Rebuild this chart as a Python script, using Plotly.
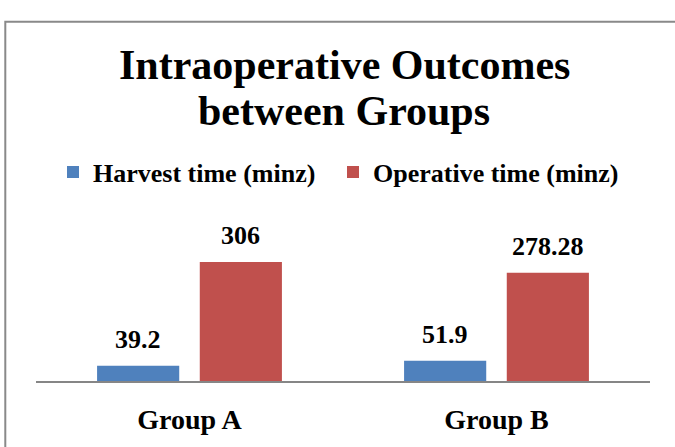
import plotly.graph_objects as go

categories = ["Group A", "Group B"]
harvest_time = [39.2, 51.9]
operative_time = [306, 278.28]
series_names = ["Harvest time (minz)", "Operative time (minz)"]
label_texts_harvest = ["39.2", "51.9"]
label_texts_operative = ["306", "278.28"]

W, H = 675, 447
ML, MR, MT, MB = 36, 25, 245, 60
PH = H - MT - MB
PW = W - ML - MR

def py(p):
    return (H - MB - p) / PH

def px(p):
    return (p - ML) / PW

FONT = "Liberation Serif"
BLUE = "#4F81BD"
RED = "#C0504D"

fig = go.Figure()
fig.add_trace(go.Bar(x=categories, y=harvest_time, name=series_names[0],
                     marker=dict(color=BLUE, line=dict(width=0)), legend="legend"))
fig.add_trace(go.Bar(x=categories, y=operative_time, name=series_names[1],
                     marker=dict(color=RED, line=dict(width=0)), legend="legend2"))

annotations = []
for cat, v, t in zip(categories, harvest_time, label_texts_harvest):
    annotations.append(dict(x=cat, y=v, xref="x", yref="y", text=t, showarrow=False,
                            xshift=-51.3, yshift=10, yanchor="bottom",
                            font=dict(family=FONT, size=26, color="black", weight="bold")))
for cat, v, t in zip(categories, operative_time, label_texts_operative):
    annotations.append(dict(x=cat, y=v, xref="x", yref="y", text=t, showarrow=False,
                            xshift=51.3, yshift=10, yanchor="bottom",
                            font=dict(family=FONT, size=26, color="black", weight="bold")))

annotations.append(dict(x=px(344), y=py(57), xref="paper", yref="paper",
                        text="Intraoperative Outcomes", showarrow=False,
                        xanchor="center", yanchor="middle",
                        font=dict(family=FONT, size=42, color="black", weight="bold")))
annotations.append(dict(x=px(344), y=py(105), xref="paper", yref="paper",
                        text="between Groups", showarrow=False,
                        xanchor="center", yanchor="middle",
                        font=dict(family=FONT, size=42, color="black", weight="bold")))

legend_style = dict(orientation="h", xanchor="left", yanchor="middle",
                    font=dict(family=FONT, size=26, color="black", weight="bold"),
                    bgcolor="rgba(0,0,0,0)", itemclick=False, itemdoubleclick=False)

fig.update_layout(
    width=W, height=H,
    margin=dict(l=ML, r=MR, t=MT, b=MB, pad=0),
    paper_bgcolor="white", plot_bgcolor="white",
    barmode="group", bargap=0.331, bargroupgap=0.2,
    showlegend=True,
    legend=dict(x=px(53), y=py(169), **legend_style),
    legend2=dict(x=px(333), y=py(169), **legend_style),
    xaxis=dict(showline=True, linecolor="#868686", linewidth=2, ticks="",
               showgrid=False, zeroline=False, ticklabelstandoff=12,
               tickfont=dict(family=FONT, size=28, color="black", weight="bold")),
    yaxis=dict(range=[0, 350], visible=False, showgrid=False, zeroline=False),
    annotations=annotations,
    shapes=[dict(type="rect", xref="paper", yref="paper",
                 x0=px(5.3), x1=px(720), y0=py(500), y1=py(12),
                 line=dict(color="#898989", width=2), fillcolor="rgba(0,0,0,0)",
                 layer="below")],
)

fig.write_html("out.html", config={"displayModeBar": False},
               post_script="document.body.style.margin='0';document.body.style.padding='0';")
